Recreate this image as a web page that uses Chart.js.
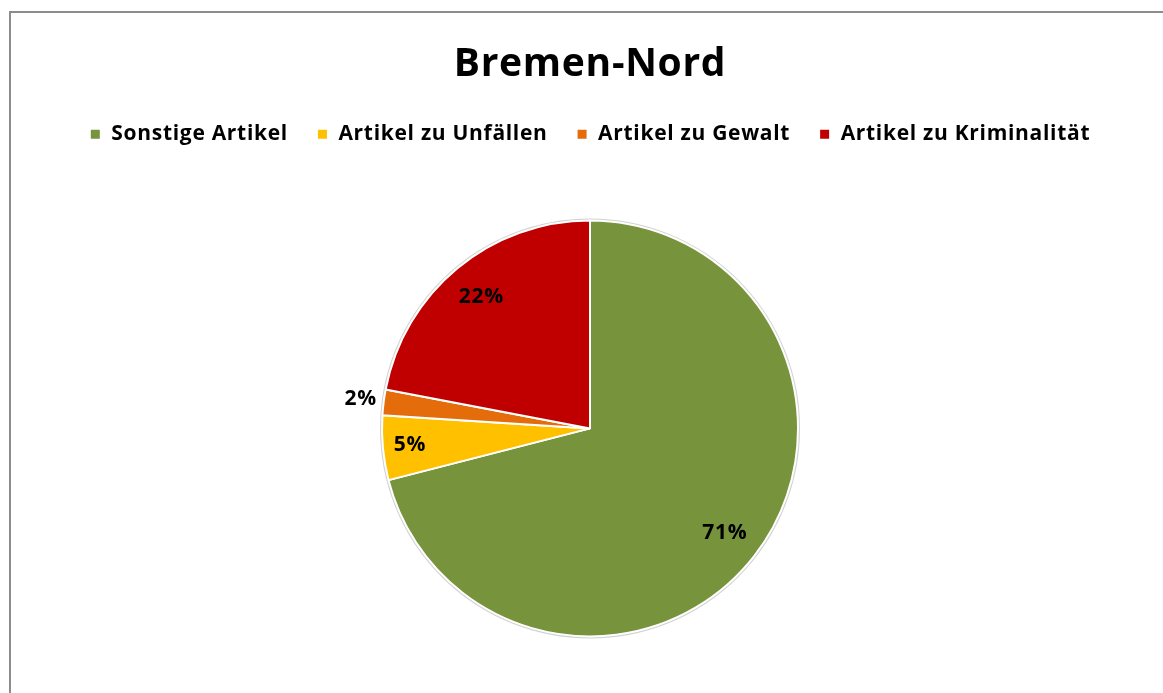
<!DOCTYPE html>
<html>
<head>
<meta charset="utf-8">
<script src="https://cdn.jsdelivr.net/npm/chart.js@4"></script>
<style>
  html, body { margin: 0; padding: 0; background: #fff; overflow: hidden; }
  #frame {
    position: absolute; left: 9px; top: 11px; width: 1200px; height: 720px;
    border-left: 2px solid #8c8c8c; border-top: 2px solid #8c8c8c;
  }
  #wrap { position: absolute; left: 0; top: 0; width: 1163px; height: 693px; }
</style>
</head>
<body>
<div id="frame"></div>
<div id="wrap"><canvas id="pieChart"></canvas></div>
<script>
const categories = ["Sonstige Artikel", "Artikel zu Unfällen", "Artikel zu Gewalt", "Artikel zu Kriminalität"];
const shares = [71, 5, 2, 22];
const colors = ["#77933c", "#ffc000", "#e46c0a", "#c00000"];
const chartTitle = "Bremen-Nord";

const FONT = "'Open Sans', Lato, sans-serif";

// a bit wider lettering, closer to the original
const spacing = {
  id: "spacing",
  beforeLayout(chart) { chart.ctx.letterSpacing = "0.7px"; },
  beforeDraw(chart) { chart.ctx.letterSpacing = "0.7px"; }
};

// more room between legend and pie
const legendGap = {
  id: "legendGap",
  beforeInit(chart) {
    const lg = chart.legend;
    if (!lg) return;
    const fit = lg.fit;
    lg.fit = function () {
      fit.call(this);
      this.height += 20;
    };
  }
};

// percentage labels, inside for big slices, outside for tiny ones
const sliceLabels = {
  id: "sliceLabels",
  afterDatasetsDraw(chart) {
    const ctx = chart.ctx;
    const meta = chart.getDatasetMeta(0);
    ctx.save();
    ctx.font = "bold 21px " + FONT;
    ctx.fillStyle = "#000";
    ctx.textBaseline = "middle";
    meta.data.forEach((arc, i) => {
      const v = shares[i];
      const mid = (arc.startAngle + arc.endAngle) / 2;
      let f = v < 3 ? 1.12 : v < 10 ? 0.87 : 0.82;
      const x = arc.x + Math.cos(mid) * arc.outerRadius * f;
      const y = arc.y + Math.sin(mid) * arc.outerRadius * f;
      ctx.textAlign = v < 3 ? "right" : "center";
      ctx.fillText(v + "%", v < 3 ? x + 18 : x, y);
    });
    ctx.restore();
  }
};

// faint grey rim around the pie
const pieRim = {
  id: "pieRim",
  beforeDatasetsDraw(chart) {
    const arc = chart.getDatasetMeta(0).data[0];
    if (!arc) return;
    const ctx = chart.ctx;
    ctx.save();
    ctx.beginPath();
    ctx.arc(arc.x, arc.y, arc.outerRadius + 1, 0, Math.PI * 2);
    ctx.strokeStyle = "rgba(0,0,0,0.18)";
    ctx.lineWidth = 2;
    ctx.stroke();
    ctx.restore();
  }
};

new Chart(document.getElementById("pieChart"), {
  type: "pie",
  data: {
    labels: categories,
    datasets: [{
      data: shares,
      backgroundColor: colors,
      borderColor: "#ffffff",
      borderWidth: 2,
      hoverOffset: 0
    }]
  },
  options: {
    responsive: true,
    maintainAspectRatio: false,
    animation: false,
    radius: 208,
    layout: { padding: { top: 41, bottom: 11, left: 17, right: 0 } },
    plugins: {
      title: {
        display: true,
        text: chartTitle,
        color: "#000",
        font: { family: FONT, size: 39, weight: "bold" },
        padding: { top: 0, bottom: 7 }
      },
      legend: {
        position: "top",
        labels: {
          color: "#000",
          font: { family: FONT, size: 21, weight: "bold" },
          boxWidth: 11,
          boxHeight: 11,
          padding: 29
        }
      },
      tooltip: { enabled: false }
    }
  },
  plugins: [spacing, legendGap, pieRim, sliceLabels]
});
</script>
</body>
</html>
